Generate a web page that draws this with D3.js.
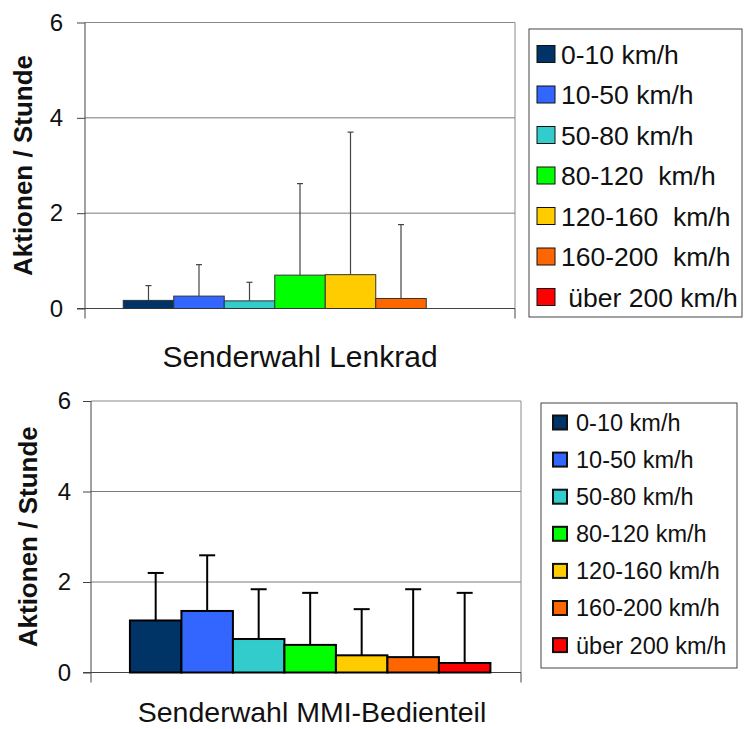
<!DOCTYPE html>
<html>
<head>
<meta charset="utf-8">
<script src="https://cdn.jsdelivr.net/npm/d3@7"></script>
<style>
  html, body { margin: 0; padding: 0; background: #fff; }
  svg { display: block; font-family: "Liberation Sans", Arial, sans-serif; }
  text { white-space: pre; }
</style>
</head>
<body>
<svg id="chart" width="745" height="729"></svg>
<script>
// ---- data ----
const categories = ["0-10 km/h", "10-50 km/h", "50-80 km/h", "80-120 km/h", "120-160 km/h", "160-200 km/h", "über 200 km/h"];
const colors = ["#003366", "#3366FF", "#33CCCC", "#00FF00", "#FFCC00", "#FF6600", "#FF0000"];
const legendTop = ["0-10 km/h", "10-50 km/h", "50-80 km/h", "80-120  km/h", "120-160  km/h", "160-200  km/h", " über 200 km/h"];
const legendBottom = ["0-10 km/h", "10-50 km/h", "50-80 km/h", "80-120 km/h", "120-160 km/h", "160-200 km/h", "über 200 km/h"];
const lenkradMean = [0.17, 0.26, 0.16, 0.70, 0.71, 0.21, 0.0];
const lenkradErr  = [0.48, 0.92, 0.55, 2.62, 3.70, 1.76, null];
const mmiMean = [1.15, 1.36, 0.74, 0.61, 0.38, 0.34, 0.21];
const mmiErr  = [2.20, 2.59, 1.84, 1.76, 1.40, 1.84, 1.76];
const yTicks = [0, 2, 4, 6];
const yTitle = "Aktionen / Stunde";
const titles = ["Senderwahl Lenkrad", "Senderwahl MMI-Bedienteil"];

const svg = d3.select("#chart");

function drawChart(cfg) {
  const g = svg.append("g");
  const y = d3.scaleLinear().domain([0, 6]).range([cfg.y0, cfg.y6]);
  const x = d3.scaleBand().domain(categories).range([cfg.x0, cfg.x1])
    .paddingInner(0).paddingOuter(cfg.pad).align(cfg.align);

  // gridlines
  g.append("g").selectAll("line").data(yTicks.filter(d => d > 0 && d < 6)).join("line")
    .attr("x1", cfg.x0).attr("x2", cfg.x1)
    .attr("y1", d => y(d)).attr("y2", d => y(d))
    .attr("stroke", "#7a7a7a").attr("stroke-width", 1);
  // frame top/right
  g.append("line").attr("x1", cfg.x0).attr("x2", cfg.x1).attr("y1", y(6)).attr("y2", y(6))
    .attr("stroke", "#8a8a8a");
  g.append("line").attr("x1", cfg.x1).attr("x2", cfg.x1).attr("y1", y(6)).attr("y2", y(0))
    .attr("stroke", "#8a8a8a");

  // y axis
  const ya = g.append("g").attr("transform", `translate(${cfg.x0},0)`)
    .call(d3.axisLeft(y).tickValues(yTicks).tickSize(8).tickPadding(cfg.tickPad).tickFormat(d3.format("d")));
  ya.select(".domain").attr("stroke", "#444").attr("d", `M0,${y(6)}V${y(0)}`);
  ya.selectAll(".tick line").attr("stroke", "#444");
  ya.selectAll(".tick text").attr("font-size", cfg.tickFont).attr("fill", "#111")
    .attr("font-family", "Liberation Sans, Arial, sans-serif");

  // x axis baseline
  g.append("line").attr("x1", cfg.x0 - 8).attr("x2", cfg.x1).attr("y1", y(0)).attr("y2", y(0))
    .attr("stroke", "#444");
  g.append("g").selectAll("line").data(x.range()).join("line")
    .attr("x1", d => d).attr("x2", d => d).attr("y1", y(0)).attr("y2", y(0) + 10)
    .attr("stroke", "#444");

  // bars
  g.append("g").selectAll("rect").data(cfg.mean).join("rect")
    .attr("x", (d, i) => x(categories[i]))
    .attr("width", x.bandwidth())
    .attr("y", d => y(d))
    .attr("height", d => y(0) - y(d))
    .attr("fill", (d, i) => colors[i])
    .attr("stroke", d => d > 0 ? cfg.barStroke : "none")
    .attr("stroke-width", cfg.barStrokeW);

  // error bars
  const eb = g.append("g");
  cfg.err.forEach((e, i) => {
    if (e == null) return;
    const cx = x(categories[i]) + x.bandwidth() / 2;
    eb.append("line").attr("x1", cx).attr("x2", cx).attr("y1", y(cfg.mean[i])).attr("y2", y(e))
      .attr("stroke", cfg.errColor).attr("stroke-width", cfg.errW);
    eb.append("line").attr("x1", cx - cfg.cap).attr("x2", cx + cfg.cap).attr("y1", y(e)).attr("y2", y(e))
      .attr("stroke", cfg.errColor).attr("stroke-width", cfg.errW);
  });

  // y title
  g.append("text")
    .attr("transform", `translate(${cfg.yTitleX},${(y(0) + y(6)) / 2 + cfg.yTitleShift}) rotate(-90)`)
    .attr("text-anchor", "middle").attr("dominant-baseline", "central")
    .attr("font-size", cfg.yTitleFont).attr("font-weight", "bold").attr("fill", "#111")
    .text(yTitle);

  // x title
  g.append("text").attr("x", cfg.xTitleX).attr("y", cfg.xTitleY)
    .attr("text-anchor", "middle").attr("font-size", cfg.xTitleFont).attr("fill", "#111")
    .text(cfg.title);

  // legend
  const L = cfg.legend;
  g.append("rect").attr("x", L.x).attr("y", L.y).attr("width", L.w).attr("height", L.h)
    .attr("fill", "#fff").attr("stroke", "#444").attr("stroke-width", 1);
  const items = g.append("g").selectAll("g").data(cfg.legendLabels).join("g")
    .attr("transform", (d, i) => `translate(0,${L.row0 + i * L.step})`);
  items.append("rect").attr("x", L.sx).attr("y", -L.sh / 2).attr("width", L.ss).attr("height", L.sh)
    .attr("fill", (d, i) => colors[i]).attr("stroke", "#111").attr("stroke-width", L.sw);
  items.append("text").attr("x", L.tx).attr("y", 0).attr("dy", "0.36em")
    .attr("font-size", L.font).attr("fill", "#111").text(d => d);
}

drawChart({
  x0: 85, x1: 515, y0: 308.5, y6: 22.5, pad: 0.757, align: 0.5,
  tickPad: 14, tickFont: 24,
  mean: lenkradMean, err: lenkradErr,
  barStroke: "#333", barStrokeW: 1,
  errColor: "#444", errW: 1.2, cap: 3,
  yTitleX: 23, yTitleShift: 0, yTitleFont: 26,
  xTitleX: 300, xTitleY: 367, xTitleFont: 30, title: titles[0],
  legendLabels: legendTop,
  legend: { x: 529, y: 29, w: 213, h: 288, row0: 54, step: 40.5, sx: 537, ss: 18, sh: 17, sw: 1, tx: 561, font: 26.5 }
});

drawChart({
  x0: 91, x1: 521, y0: 672.5, y6: 401, pad: 0.675, align: 0.56,
  tickPad: 12, tickFont: 24,
  mean: mmiMean, err: mmiErr,
  barStroke: "#000", barStrokeW: 2,
  errColor: "#000", errW: 2, cap: 8,
  yTitleX: 28, yTitleShift: 0, yTitleFont: 26,
  xTitleX: 312, xTitleY: 722, xTitleFont: 28.5, title: titles[1],
  legendLabels: legendBottom,
  legend: { x: 541, y: 403, w: 196, h: 265, row0: 422.5, step: 37.1, sx: 553, ss: 14, sh: 14, sw: 2, tx: 576, font: 23.5 }
});
</script>
</body>
</html>
